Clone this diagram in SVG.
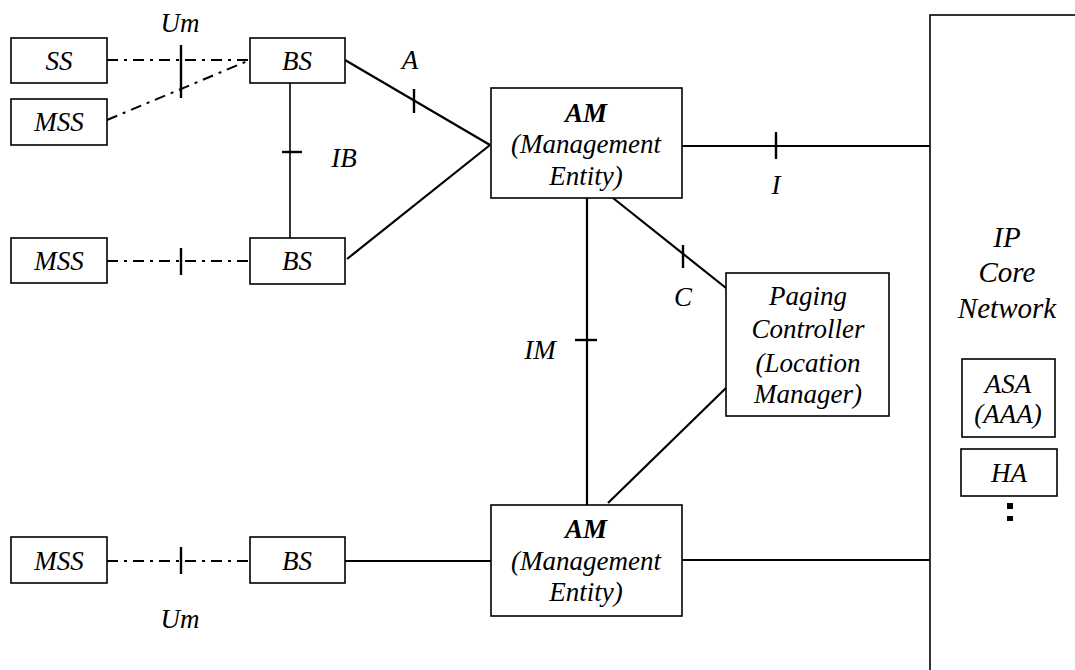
<svg xmlns="http://www.w3.org/2000/svg" width="1075" height="670" viewBox="0 0 1075 670">
<style>
.box{fill:#fff;stroke:#000;stroke-width:1.6}
.t{font-family:"Liberation Serif","Times New Roman",serif;font-style:italic;font-size:27px;fill:#000;text-anchor:middle}
.b{font-weight:bold}
.big{font-size:29px}
.ln{stroke:#000;stroke-width:2.2;fill:none}
.thin{stroke:#000;stroke-width:1.6;fill:none}
.dd{stroke:#000;stroke-width:2;fill:none;stroke-dasharray:11 6 3 6}
.tk{stroke:#000;stroke-width:2.4}
</style>
<rect width="1075" height="670" fill="#fff"/>
<g id="connectors">
<line class="dd" x1="107" y1="60" x2="250" y2="60"/>
<line class="dd" x1="107" y1="120" x2="250" y2="60"/>
<line class="dd" x1="107" y1="261" x2="250" y2="261"/>
<line class="dd" x1="107" y1="561" x2="250" y2="561"/>
<line class="thin" x1="290" y1="83" x2="290" y2="238"/>
<line class="ln" x1="345" y1="60" x2="490" y2="145"/>
<line class="ln" x1="347" y1="259" x2="490" y2="145"/>
<line class="ln" x1="682" y1="146" x2="930" y2="146"/>
<line class="ln" x1="613" y1="198" x2="726" y2="288"/>
<line class="ln" x1="587" y1="198" x2="587" y2="505"/>
<line class="ln" x1="726" y1="388" x2="608" y2="503"/>
<line class="ln" x1="345" y1="561" x2="491" y2="561"/>
<line class="ln" x1="682" y1="560" x2="930" y2="560"/>
<line class="tk" x1="181" y1="45" x2="181" y2="98"/>
<line class="tk" x1="181" y1="248" x2="181" y2="275"/>
<line class="tk" x1="181" y1="547" x2="181" y2="574"/>
<line class="tk" x1="282" y1="152" x2="302" y2="152"/>
<line class="tk" x1="414" y1="89" x2="414" y2="113"/>
<line class="tk" x1="776" y1="132" x2="776" y2="159"/>
<line class="tk" x1="683" y1="245" x2="683" y2="268"/>
<line class="tk" x1="575" y1="340" x2="597" y2="340"/>
<text class="t" x="180" y="32">Um</text>
<text class="t" x="180" y="628">Um</text>
<text class="t" x="410" y="69">A</text>
<text class="t" x="344" y="167">IB</text>
<text class="t" x="776" y="194">I</text>
<text class="t" x="683" y="306">C</text>
<text class="t" x="540" y="359">IM</text>
</g>
<g id="ss"><rect class="box" x="11" y="38" width="96" height="45"/><text class="t" x="59" y="70">SS</text></g>
<g id="mss1"><rect class="box" x="11" y="99" width="96" height="46"/><text class="t" x="59" y="131">MSS</text></g>
<g id="mss2"><rect class="box" x="11" y="238" width="96" height="45"/><text class="t" x="59" y="270">MSS</text></g>
<g id="mss3"><rect class="box" x="11" y="537" width="96" height="46"/><text class="t" x="59" y="570">MSS</text></g>
<g id="bs1"><rect class="box" x="250" y="38" width="95" height="45"/><text class="t" x="297" y="70">BS</text></g>
<g id="bs2"><rect class="box" x="250" y="238" width="95" height="46"/><text class="t" x="297" y="270">BS</text></g>
<g id="bs3"><rect class="box" x="250" y="537" width="95" height="46"/><text class="t" x="297" y="570">BS</text></g>
<g id="am1"><rect class="box" x="491" y="88" width="191" height="110"/>
<text class="t b" x="586" y="122">AM</text><text class="t" x="586" y="153">(Management</text><text class="t" x="586" y="185">Entity)</text></g>
<g id="am2"><rect class="box" x="491" y="505" width="191" height="111"/>
<text class="t b" x="586" y="538">AM</text><text class="t" x="586" y="570">(Management</text><text class="t" x="586" y="601">Entity)</text></g>
<g id="paging"><rect class="box" x="726" y="273" width="163" height="143"/>
<text class="t" x="808" y="305">Paging</text><text class="t" x="808" y="338">Controller</text><text class="t" x="808" y="372">(Location</text><text class="t" x="808" y="403">Manager)</text></g>
<g id="ipcore"><rect class="box" x="930" y="15" width="200" height="700"/>
<text class="t big" x="1007" y="247">IP</text><text class="t big" x="1007" y="282">Core</text><text class="t big" x="1007" y="318">Network</text></g>
<g id="asa"><rect class="box" x="962" y="359" width="93" height="78"/><text class="t" x="1008" y="393">ASA</text><text class="t" x="1008" y="423">(AAA)</text></g>
<g id="ha"><rect class="box" x="961" y="449" width="96" height="47"/><text class="t" x="1009" y="482">HA</text></g>
<g id="dots"><rect x="1007" y="503" width="6" height="6" fill="#000"/><rect x="1007" y="516" width="6" height="5" fill="#000"/></g>
</svg>
